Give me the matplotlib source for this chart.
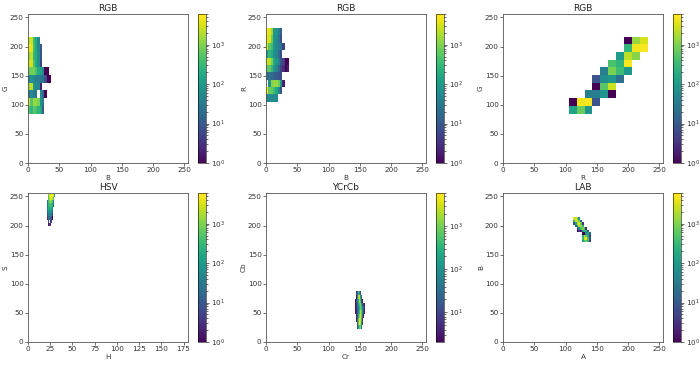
import matplotlib
matplotlib.use("Agg")
import matplotlib.pyplot as plt
from matplotlib.colors import LogNorm
import numpy as np

# counts per cell, rows go top to bottom, 0 = empty
bg_counts = [
    [2500, 3000, 400, 200, 60, 0, 0, 0, 0, 0],
    [5000, 4000, 400, 200, 60, 10, 0, 0, 0, 0],
    [1500, 2500, 300, 200, 80, 8, 0, 0, 0, 0],
    [3000, 3500, 500, 200, 80, 6, 0, 0, 0, 0],
    [800, 900, 1000, 500, 200, 150, 60, 1, 1, 0],
    [40, 80, 60, 40, 40, 30, 30, 8, 1, 1],
    [1500, 2500, 100, 60, 60, 2, 0, 0, 0, 0],
    [30, 60, 40, 30, 0, 60, 20, 1, 0, 0],
    [3000, 600, 1500, 1500, 1000, 90, 30, 0, 0, 0],
    [500, 300, 700, 500, 300, 200, 10, 0, 0, 0],
]
br_counts = [
    [5000, 4000, 1500, 100, 80, 40, 15, 0, 0, 0],
    [4500, 3500, 800, 100, 70, 30, 8, 0, 0, 0],
    [3000, 700, 400, 100, 60, 40, 30, 5, 0, 0],
    [120, 300, 200, 80, 60, 20, 8, 0, 0, 0],
    [3000, 2500, 900, 200, 100, 40, 10, 5, 1, 1],
    [600, 700, 300, 100, 50, 15, 6, 3, 1, 2],
    [15, 25, 20, 15, 12, 10, 8, 0, 0, 0],
    [0, 80, 1200, 1500, 1500, 800, 100, 2, 0, 0],
    [4000, 800, 700, 400, 200, 60, 10, 0, 0, 0],
    [50, 70, 60, 70, 60, 0, 0, 0, 0, 0],
]
rg_counts = [
    [0, 0, 0, 0, 0, 0, 0, 1, 1500, 3500],
    [0, 0, 0, 0, 0, 0, 0, 300, 5000, 5500],
    [0, 0, 0, 0, 0, 0, 120, 2500, 1300, 0],
    [0, 0, 0, 0, 0, 500, 300, 5500, 0, 0],
    [0, 0, 0, 0, 40, 1000, 400, 100, 0, 0],
    [0, 0, 0, 10, 70, 100, 25, 0, 0, 0],
    [0, 0, 0, 1, 600, 3000, 0, 0, 0, 0],
    [0, 0, 40, 40, 90, 1, 0, 0, 0, 0],
    [1, 5000, 5500, 10, 0, 0, 0, 0, 0, 0],
    [150, 800, 90, 0, 0, 0, 0, 0, 0, 0],
]
hs_counts = [
    [0, 0, 100, 800, 3000, 5000, 5500, 5000, 3000, 200],
    [0, 0, 100, 500, 2000, 4000, 4000, 2500, 600, 0],
    [0, 20, 200, 400, 900, 1500, 1000, 500, 40, 0],
    [0, 30, 150, 300, 400, 500, 400, 200, 20, 0],
    [0, 40, 100, 200, 200, 300, 200, 100, 0, 0],
    [0, 15, 50, 80, 120, 120, 80, 30, 0, 0],
    [0, 10, 30, 40, 60, 60, 30, 5, 0, 0],
    [0, 4, 10, 20, 25, 20, 10, 1, 0, 0],
    [0, 0, 3, 6, 0, 6, 4, 0, 0, 0],
    [0, 0, 0, 2, 3, 3, 0, 0, 0, 0],
]
crcb_counts = [
    [0, 6, 30, 500, 100, 10, 0, 0, 0, 0],
    [0, 3, 150, 1500, 3500, 200, 20, 0, 0, 0],
    [3, 10, 100, 300, 2000, 600, 15, 3, 0, 0],
    [3, 8, 40, 150, 600, 1500, 120, 25, 8, 3],
    [3, 6, 25, 80, 300, 1000, 400, 120, 20, 5],
    [3, 6, 20, 80, 500, 2500, 800, 120, 12, 3],
    [0, 4, 30, 200, 1500, 3500, 800, 40, 3, 0],
    [0, 3, 60, 800, 4000, 4000, 300, 10, 0, 0],
    [0, 0, 30, 800, 5000, 3000, 150, 8, 0, 0],
    [0, 0, 15, 150, 800, 1000, 60, 0, 0, 0],
]
ab_counts = [
    [3500, 2500, 1500, 100, 0, 0, 0, 0, 0, 0],
    [300, 3500, 3000, 800, 20, 0, 0, 0, 0, 0],
    [10, 150, 2500, 3500, 800, 3, 0, 0, 0, 0],
    [0, 15, 150, 2000, 1500, 300, 0, 0, 0, 0],
    [0, 0, 5, 50, 500, 1200, 500, 3, 0, 0],
    [0, 0, 1, 3, 2, 150, 400, 200, 15, 0],
    [0, 0, 0, 0, 0, 1, 1, 60, 200, 15],
    [0, 0, 0, 0, 0, 300, 2500, 800, 200, 5],
    [0, 0, 0, 0, 0, 300, 3500, 4500, 500, 10],
    [0, 0, 0, 0, 0, 150, 500, 800, 300, 5],
]

titles = ["RGB", "RGB", "RGB", "HSV", "YCrCb", "LAB"]
xlabels = ["B", "B", "R", "H", "Cr", "A"]
ylabels = ["G", "R", "G", "S", "Cb", "B"]
all_counts = [bg_counts, br_counts, rg_counts, hs_counts, crcb_counts, ab_counts]
x_ranges = [(0, 37), (0, 37), (105, 232), (20, 30), (143, 158), (112, 140)]
y_ranges = [(85, 217), (105, 232), (85, 217), (199, 255), (22, 87), (171, 214)]
x_limits = [256, 256, 256, 180, 256, 256]
x_ticks = [range(0, 256, 50)] * 3 + [range(0, 176, 25)] + [range(0, 256, 50)] * 2
vmins = [1, 1, 1, 1, 2.05, 1]
vmax = 6000

W, H = 700, 365
lefts = [28, 266, 503]
tops = [14, 193]
ax_w, ax_h = 160, 149

fig = plt.figure(figsize=(W / 100, H / 100), dpi=100)

for i in range(6):
    col = i % 3
    row = i // 3
    ax = fig.add_axes([lefts[col] / W, 1 - (tops[row] + ax_h) / H, ax_w / W, ax_h / H])
    counts = np.array(all_counts[i], dtype=float)[::-1]
    counts = np.ma.masked_equal(counts, 0)
    xedges = np.linspace(x_ranges[i][0], x_ranges[i][1], 11)
    yedges = np.linspace(y_ranges[i][0], y_ranges[i][1], 11)
    mesh = ax.pcolormesh(xedges, yedges, counts, cmap="viridis",
                         norm=LogNorm(vmin=vmins[i], vmax=vmax))
    ax.set_xlim(0, x_limits[i])
    ax.set_ylim(0, 256)
    ax.set_xticks(list(x_ticks[i]))
    ax.set_yticks(range(0, 256, 50))
    ax.tick_params(labelsize=5.2, length=2, width=0.5, pad=1.2, colors="#333333")
    ax.set_title(titles[i], fontsize=6.5, pad=2.5, color="#222222")
    ax.set_xlabel(xlabels[i], fontsize=5.2, labelpad=1, color="#333333")
    ax.set_ylabel(ylabels[i], fontsize=5.2, labelpad=0.5, color="#333333")
    for s in ax.spines.values():
        s.set_linewidth(0.6)
        s.set_color("#555555")

    cax = fig.add_axes([(lefts[col] + ax_w + 10) / W, 1 - (tops[row] + ax_h) / H, 8 / W, ax_h / H])
    cb = fig.colorbar(mesh, cax=cax)
    cb.solids.set_edgecolor("face")
    cb.ax.tick_params(labelsize=5.2, length=2, width=0.5, pad=1.5, colors="#333333")
    cb.ax.tick_params(which="minor", length=1.2, width=0.4)
    cb.outline.set_linewidth(0.4)

plt.savefig("out.png", dpi=100)
